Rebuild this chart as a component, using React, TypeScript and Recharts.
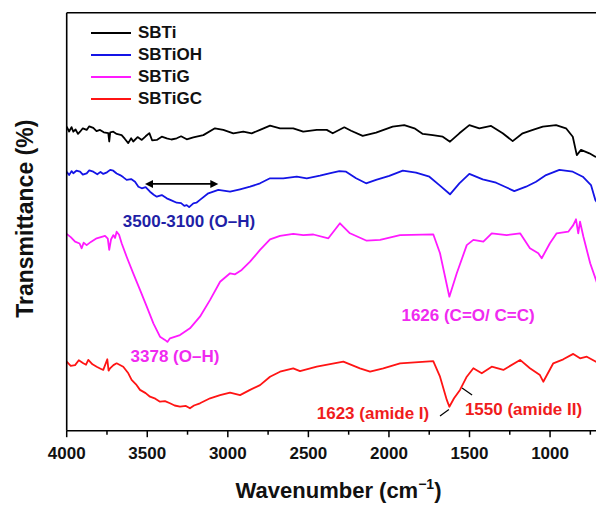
import { LineChart, Line, XAxis, YAxis, Legend, Label, ReferenceLine, ReferenceDot } from 'recharts';

// [wavenumber (cm-1), transmittance (a.u., offset)]
const sbti: [number, number][] = [
  [4000, 76.0], [3985, 74.8], [3970, 75.9], [3959, 74.75], [3945, 75.3], [3930, 74.2], [3917, 74.75],
  [3900, 75.6], [3876, 75.2], [3860, 76.1], [3835, 75.7], [3815, 74.9], [3793, 75.2], [3770, 74.6],
  [3742, 74.4], [3736, 72.3], [3730, 74.6], [3711, 74.75], [3690, 74.2], [3659, 73.9], [3640, 73.0],
  [3618, 71.9], [3600, 73.1], [3587, 72.3], [3560, 73.4], [3534, 72.7], [3510, 73.6], [3487, 74.4],
  [3470, 72.6], [3441, 72.7], [3410, 73.5], [3379, 73.1], [3350, 72.8], [3317, 73.1], [3290, 73.6],
  [3255, 72.85], [3214, 73.35], [3152, 73.9], [3080, 75.6], [3028, 75.2], [2966, 74.35], [2904, 74.75],
  [2852, 74.35], [2800, 75.2], [2738, 76.25], [2676, 75.6], [2594, 75.6], [2532, 74.75], [2448, 75.2],
  [2386, 75.2], [2349, 74.35], [2277, 75.85], [2235, 75.0], [2163, 73.7], [2080, 74.5], [1977, 76.0],
  [1905, 76.4], [1842, 75.6], [1790, 74.2], [1728, 73.9], [1666, 73.5], [1621, 72.25], [1563, 74.35],
  [1501, 76.4], [1439, 75.6], [1366, 76.2], [1294, 74.35], [1232, 72.4], [1170, 74.35], [1107, 75.2],
  [1045, 76.0], [963, 76.4], [901, 75.6], [859, 73.5], [834, 68.9], [808, 70.2], [756, 69.35],
  [719, 68.5], [700, 68.3],
];

const sbtiOH: [number, number][] = [
  [4000, 64.75], [3985, 63.9], [3970, 64.9], [3959, 64.35], [3940, 65.0], [3917, 64.75], [3900, 64.0],
  [3876, 64.35], [3860, 65.1], [3835, 64.75], [3810, 64.1], [3790, 64.7], [3773, 64.2], [3750, 64.6],
  [3730, 65.2], [3711, 65.0], [3690, 64.3], [3669, 63.9], [3650, 63.4], [3628, 62.7], [3600, 62.9],
  [3576, 62.25], [3555, 61.0], [3534, 60.6], [3510, 60.9], [3483, 59.75], [3460, 59.0], [3441, 58.5],
  [3410, 58.9], [3379, 58.1], [3350, 57.6], [3317, 57.0], [3290, 56.9], [3270, 56.2], [3255, 56.4],
  [3240, 55.9], [3214, 56.85], [3195, 57.0], [3173, 57.7], [3121, 59.35], [3059, 60.2], [2986, 59.75],
  [2924, 60.35], [2862, 61.0], [2800, 61.85], [2738, 63.1], [2656, 63.1], [2572, 63.5], [2510, 63.1],
  [2428, 63.75], [2370, 64.35], [2308, 64.9], [2266, 64.75], [2204, 63.1], [2142, 61.85], [2080, 62.7],
  [1998, 63.7], [1914, 65.0], [1832, 64.5], [1749, 63.5], [1687, 61.4], [1621, 59.1], [1563, 61.85],
  [1501, 64.2], [1418, 62.85], [1335, 62.0], [1273, 60.85], [1222, 59.9], [1149, 61.0], [1087, 62.25],
  [1025, 63.9], [942, 65.2], [859, 64.75], [797, 63.5], [746, 61.4], [719, 57.7], [700, 56.5],
];

const sbtiG: [number, number][] = [
  [4000, 49.2], [3975, 48.4], [3948, 47.25], [3920, 46.8], [3907, 45.6], [3895, 47.0], [3876, 46.4],
  [3850, 47.2], [3814, 48.1], [3762, 48.7], [3745, 48.0], [3736, 45.2], [3725, 47.8], [3711, 48.9],
  [3700, 48.2], [3690, 49.75], [3675, 49.0], [3659, 46.85], [3628, 43.5], [3587, 39.35], [3545, 35.2],
  [3503, 31.0], [3462, 26.85], [3421, 23.5], [3390, 22.7], [3375, 22.2], [3359, 23.1], [3297, 23.9],
  [3235, 25.6], [3173, 28.5], [3110, 32.7], [3048, 37.25], [2986, 39.35], [2955, 39.1], [2914, 40.2],
  [2862, 42.25], [2800, 45.2], [2738, 47.85], [2676, 48.7], [2594, 49.2], [2532, 48.9], [2469, 49.05],
  [2376, 48.1], [2304, 51.85], [2242, 49.35], [2138, 47.5], [2055, 47.7], [1931, 48.9], [1725, 49.1],
  [1683, 44.35], [1625, 33.5], [1579, 39.35], [1517, 46.4], [1476, 47.7], [1414, 47.25], [1362, 49.35],
  [1269, 48.9], [1186, 49.35], [1125, 45.6], [1073, 44.35], [1052, 43.1], [1001, 46.85], [959, 49.35],
  [887, 49.75], [856, 51.4], [839, 52.85], [825, 49.35], [814, 52.25], [793, 48.5], [751, 41.85],
  [715, 37.7], [700, 36.0],
];

const sbtiGC: [number, number][] = [
  [4000, 17.25], [3975, 16.2], [3948, 16.4], [3925, 17.6], [3897, 16.85], [3880, 16.5], [3866, 17.7],
  [3840, 16.6], [3814, 16.0], [3790, 15.5], [3773, 15.2], [3748, 17.85], [3740, 15.0], [3731, 15.6],
  [3710, 16.4], [3690, 16.85], [3649, 16.0], [3620, 14.5], [3597, 12.7], [3570, 11.6], [3545, 10.2],
  [3510, 9.4], [3483, 8.5], [3450, 8.0], [3421, 7.25], [3390, 7.4], [3359, 6.85], [3330, 6.3],
  [3297, 6.0], [3260, 6.2], [3235, 5.6], [3210, 6.3], [3173, 6.85], [3110, 8.1], [3048, 8.9],
  [2986, 9.5], [2924, 8.9], [2862, 10.2], [2800, 11.4], [2738, 13.5], [2676, 14.75], [2594, 15.6],
  [2552, 14.9], [2448, 16.0], [2283, 17.25], [2180, 15.6], [2117, 14.75], [2035, 15.6], [1931, 16.85],
  [1725, 17.4], [1683, 13.5], [1641, 7.7], [1625, 6.0], [1596, 8.1], [1559, 10.2], [1517, 13.5],
  [1476, 15.6], [1424, 14.35], [1362, 16.0], [1290, 15.2], [1186, 17.7], [1125, 15.6], [1063, 13.9],
  [1042, 12.25], [980, 16.85], [918, 17.85], [856, 19.2], [814, 18.1], [772, 18.5], [715, 17.25],
  [700, 17.0],
];

const xTicks = [4000, 3750, 3500, 3250, 3000, 2750, 2500, 2250, 2000, 1750, 1500, 1250, 1000, 750];

const toRows = (pts: [number, number][]) => pts.map(([w, t]) => ({ w, t }));

const series = [
  { name: 'SBTi', color: '#000000', data: toRows(sbti) },
  { name: 'SBTiOH', color: '#1414e6', data: toRows(sbtiOH) },
  { name: 'SBTiG', color: '#ff1aff', data: toRows(sbtiG) },
  { name: 'SBTiGC', color: '#ff1414', data: toRows(sbtiGC) },
];

// peak labels: [x (cm-1), y, text, colour]
const notes: [number, number, string, string][] = [
  [3241, 52.25, '3500-3100 (O\u2013H)', '#1f1fa6'],
  [3328, 18.5, '3378 (O\u2013H)', '#f02af0'],
  [1509, 28.9, '1626 (C=O/ C=C)', '#f02af0'],
  [2099, 4.3, '1623 (amide I)', '#f01c1c'],
  [1165, 5.4, '1550 (amide II)', '#f01c1c'],
];

const FONT = "'Liberation Sans', Arial, sans-serif";

const WaveTick = (props: any) => {
  const { x, y, payload } = props;
  const major = payload.value % 500 === 0;
  return (
    <g>
      <line x1={x} x2={x} y1={y - 16} y2={y - 16 + (major ? 6.5 : 4)} stroke="#000" strokeWidth={1.5} />
      {major && (
        <text x={x} y={y} dy="0.71em" textAnchor="middle" fontSize={17} fontWeight="bold" fontFamily={FONT} fill="#111">
          {payload.value}
        </text>
      )}
    </g>
  );
};

const XTitle = (props: any) => {
  const vb = props.viewBox;
  return (
    <text x={vb.x + vb.width / 2 + 6} y={vb.y + 67} textAnchor="middle" fontSize={22} fontWeight="bold" fontFamily={FONT} fill="#111">
      Wavenumber (cm<tspan dy={-9} fontSize={14}>{'\u22121'}</tspan>
      <tspan dy={9}>)</tspan>
    </text>
  );
};

const YTitle = (props: any) => {
  const vb = props.viewBox;
  const cx = vb.x + 25;
  const cy = vb.y + vb.height / 2 - 3;
  return (
    <text x={cx} y={cy} transform={`rotate(-90 ${cx} ${cy})`} textAnchor="middle" dominantBaseline="central" fontSize={23} fontWeight="bold" fontFamily={FONT} fill="#111">
      Transmittance (%)
    </text>
  );
};

const DoubleArrow = (props: any) => {
  const { x1, y1, x2, y2 } = props;
  const l = Math.min(x1, x2);
  const r = Math.max(x1, x2);
  return (
    <g>
      <line x1={l + 4} y1={y1} x2={r - 4} y2={y2} stroke="#000" strokeWidth={1.6} />
      <polygon points={`${l},${y1} ${l + 8},${y1 - 4} ${l + 8},${y1 + 4}`} fill="#000" />
      <polygon points={`${r},${y2} ${r - 8},${y2 - 4} ${r - 8},${y2 + 4}`} fill="#000" />
    </g>
  );
};

const Leader = (props: any) => (
  <line x1={props.x1} y1={props.y1} x2={props.x2} y2={props.y2} stroke="#000" strokeWidth={1.2} />
);

const renderLegend = () => (
  <div style={{ fontFamily: FONT, fontWeight: 'bold', fontSize: 17, color: '#111' }}>
    {series.map((s) => (
      <div key={s.name} style={{ display: 'flex', alignItems: 'center', height: 22 }}>
        <svg width={40} height={22} style={{ marginRight: 7 }}>
          <line x1={0} x2={40} y1={11} y2={11} stroke={s.color} strokeWidth={2} />
        </svg>
        <span>{s.name}</span>
      </div>
    ))}
  </div>
);

export default function App() {
  return (
    <div style={{ position: 'absolute', left: 0, top: 0, width: 596, height: 505, overflow: 'hidden', background: '#fff' }}>
      <LineChart width={620} height={505} margin={{ top: 12.7, right: 21.6, bottom: 24.3, left: 0 }}>
        <XAxis
          dataKey="w"
          type="number"
          domain={[700, 4000]}
          reversed
          ticks={xTicks}
          interval={0}
          allowDataOverflow
          height={50}
          tickSize={6}
          tickMargin={10}
          tickLine={false}
          tick={<WaveTick />}
          axisLine={{ stroke: '#000', strokeWidth: 1.6 }}
        >
          <Label content={<XTitle />} />
        </XAxis>
        <YAxis
          type="number"
          domain={[0, 104.5]}
          width={66.7}
          tick={false}
          tickLine={false}
          axisLine={{ stroke: '#000', strokeWidth: 1.6 }}
        >
          <Label content={<YTitle />} />
        </YAxis>
        <ReferenceLine y={104.5} stroke="#000" strokeWidth={1.6} />
        <Legend
          layout="vertical"
          align="center"
          verticalAlign="middle"
          content={renderLegend}
          wrapperStyle={{ left: 91, top: 22, width: 160 }}
        />
        {series.map((s) => (
          <Line
            key={s.name}
            data={s.data}
            dataKey="t"
            name={s.name}
            type="linear"
            stroke={s.color}
            strokeWidth={1.8}
            strokeLinejoin="round"
            dot={false}
            activeDot={false}
            isAnimationActive={false}
          />
        ))}
        <ReferenceLine
          segment={[{ x: 3514, y: 61.7 }, { x: 3059, y: 61.7 }]}
          shape={<DoubleArrow />}
        />
        <ReferenceLine segment={[{ x: 1683, y: 3.7 }, { x: 1628, y: 5.3 }]} shape={<Leader />} />
        <ReferenceLine segment={[{ x: 1546, y: 10.7 }, { x: 1484, y: 8.9 }]} shape={<Leader />} />
        {notes.map(([x, y, text, color]) => (
          <ReferenceDot
            key={text}
            x={x}
            y={y}
            r={0}
            shape={(p: any) => (
              <text x={p.cx} y={p.cy} textAnchor="middle" dominantBaseline="central" fontSize={17} fontWeight="bold" fontFamily={FONT} fill={color}>
                {text}
              </text>
            )}
          />
        ))}
      </LineChart>
    </div>
  );
}
